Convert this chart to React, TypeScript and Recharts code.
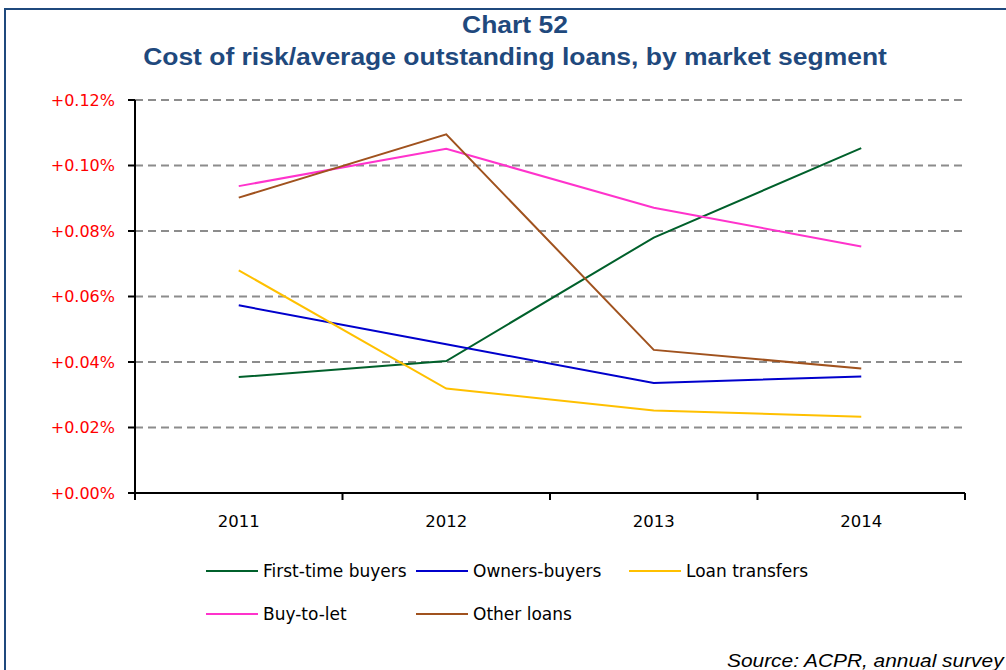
import { LineChart, Line, XAxis, YAxis, CartesianGrid, Legend } from "recharts";

// Cost of risk / average outstanding loans, in % (one value per year)
const years = [2011, 2012, 2013, 2014];
const firstTimeBuyers = [0.0354, 0.0403, 0.078, 0.1053];
const ownersBuyers = [0.0573, 0.0454, 0.0336, 0.0356];
const loanTransfers = [0.068, 0.0319, 0.0252, 0.0233];
const buyToLet = [0.0937, 0.1051, 0.0871, 0.0753];
const otherLoans = [0.0902, 0.1095, 0.0437, 0.038];

const yTicks = [0, 0.02, 0.04, 0.06, 0.08, 0.1, 0.12];
// tick marks sit between the years, labels sit on them
const yearEdges = [2010.5, 2011.5, 2012.5, 2013.5, 2014.5];
const xTicks = [...yearEdges, ...years].sort((a, b) => a - b);

const series = [
  { key: "firstTime", name: "First-time buyers", values: firstTimeBuyers, color: "#00602B" },
  { key: "owners", name: "Owners-buyers", values: ownersBuyers, color: "#0000CC" },
  { key: "transfers", name: "Loan transfers", values: loanTransfers, color: "#FFC000" },
  { key: "buyToLet", name: "Buy-to-let", values: buyToLet, color: "#FF33CC" },
  { key: "other", name: "Other loans", values: otherLoans, color: "#A0521E" },
];

const rows = years.map((year, i) => {
  const row: Record<string, number> = { year };
  series.forEach((s) => (row[s.key] = s.values[i]));
  return row;
});

const NAVY = "#1F497D";
const tickFont = '"DejaVu Sans", sans-serif';

// year label at the category centre, short tick mark at the edges
const YearTick = (props: any) => {
  const { x, y, payload } = props;
  const v = payload.value as number;
  if (Number.isInteger(v)) {
    return (
      <text x={x} y={y + 34} textAnchor="middle" fill="#000" fontSize={16.5} fontFamily={tickFont}>
        {v}
      </text>
    );
  }
  return <line x1={x} x2={x} y1={y} y2={y + 7} stroke="#000" strokeWidth={2} />;
};

const renderLegend = (props: any) => {
  const { payload = [] } = props;
  const order = series.map((s) => s.name);
  const items = [...payload].sort((a: any, b: any) => order.indexOf(a.value) - order.indexOf(b.value));
  return (
    <div
      style={{
        display: "grid",
        gridTemplateColumns: "210px 213px 213px",
        paddingLeft: 206,
        fontFamily: tickFont,
        fontSize: 17,
        color: "#000",
      }}
    >
      {items.map((entry: any) => (
        <div key={entry.value} style={{ display: "flex", alignItems: "center", height: 43 }}>
          <svg width={52} height={4}>
            <line x1={0} y1={2} x2={52} y2={2} stroke={entry.color} strokeWidth={2} />
          </svg>
          <span style={{ marginLeft: 5, whiteSpace: "nowrap" }}>{entry.value}</span>
        </div>
      ))}
    </div>
  );
};

const titleLine = (text: string, top: number) => (
  <div
    style={{
      position: "absolute",
      left: 515,
      top,
      transform: "translateX(-50%) scaleX(1.15)",
      fontFamily: '"Liberation Sans", Arial, sans-serif',
      fontWeight: "bold",
      fontSize: 23,
      lineHeight: "32px",
      color: NAVY,
      whiteSpace: "nowrap",
    }}
  >
    {text}
  </div>
);

export default function App() {
  return (
    <div
      style={{
        position: "absolute",
        left: 0,
        top: 0,
        width: 1006,
        height: 670,
        overflow: "hidden",
        background: "#fff",
      }}
    >
      <div
        style={{
          position: "absolute",
          left: 4,
          top: 8,
          width: 1020,
          height: 700,
          border: `2.5px solid ${NAVY}`,
        }}
      />
      {titleLine("Chart 52", 9)}
      {titleLine("Cost of risk/average outstanding loans, by market segment", 41)}

      <div style={{ position: "absolute", left: 0, top: 0 }}>
        <LineChart
          width={1006}
          height={670}
          data={rows}
          margin={{ top: 100, right: 41, bottom: 139, left: 0 }}
        >
          <CartesianGrid
            vertical={false}
            stroke="#8C8C8C"
            strokeWidth={2}
            strokeDasharray="8 5"
          />
          <XAxis
            type="number"
            dataKey="year"
            domain={[2010.5, 2014.5]}
            ticks={xTicks}
            interval={0}
            tickSize={0}
            tickMargin={0}
            height={38}
            tick={<YearTick />}
            axisLine={{ stroke: "#000", strokeWidth: 2 }}
            tickLine={false}
          />
          <YAxis
            domain={[0, 0.12]}
            ticks={yTicks}
            interval={0}
            width={135}
            tickSize={7}
            tickMargin={13}
            tickFormatter={(v: number) => `+${v.toFixed(2)}%`}
            tick={{ fill: "#FF0000", fontSize: 16, fontFamily: tickFont }}
            axisLine={{ stroke: "#000", strokeWidth: 2 }}
            tickLine={{ stroke: "#000", strokeWidth: 2 }}
          />
          {series.map((s) => (
            <Line
              key={s.key}
              type="linear"
              dataKey={s.key}
              name={s.name}
              stroke={s.color}
              strokeWidth={2}
              dot={false}
              activeDot={false}
              isAnimationActive={false}
            />
          ))}
          <Legend
            layout="horizontal"
            verticalAlign="middle"
            align="center"
            width={1006}
            wrapperStyle={{ top: 549, left: 0 }}
            content={renderLegend}
          />
        </LineChart>
      </div>

      <div
        style={{
          position: "absolute",
          left: 727,
          top: 651,
          transform: "scaleX(1.16)",
          transformOrigin: "left top",
          fontFamily: '"Liberation Sans", Arial, sans-serif',
          fontStyle: "italic",
          fontSize: 18,
          lineHeight: "20px",
          color: "#000",
          whiteSpace: "nowrap",
        }}
      >
        Source: ACPR, annual survey
      </div>
    </div>
  );
}
